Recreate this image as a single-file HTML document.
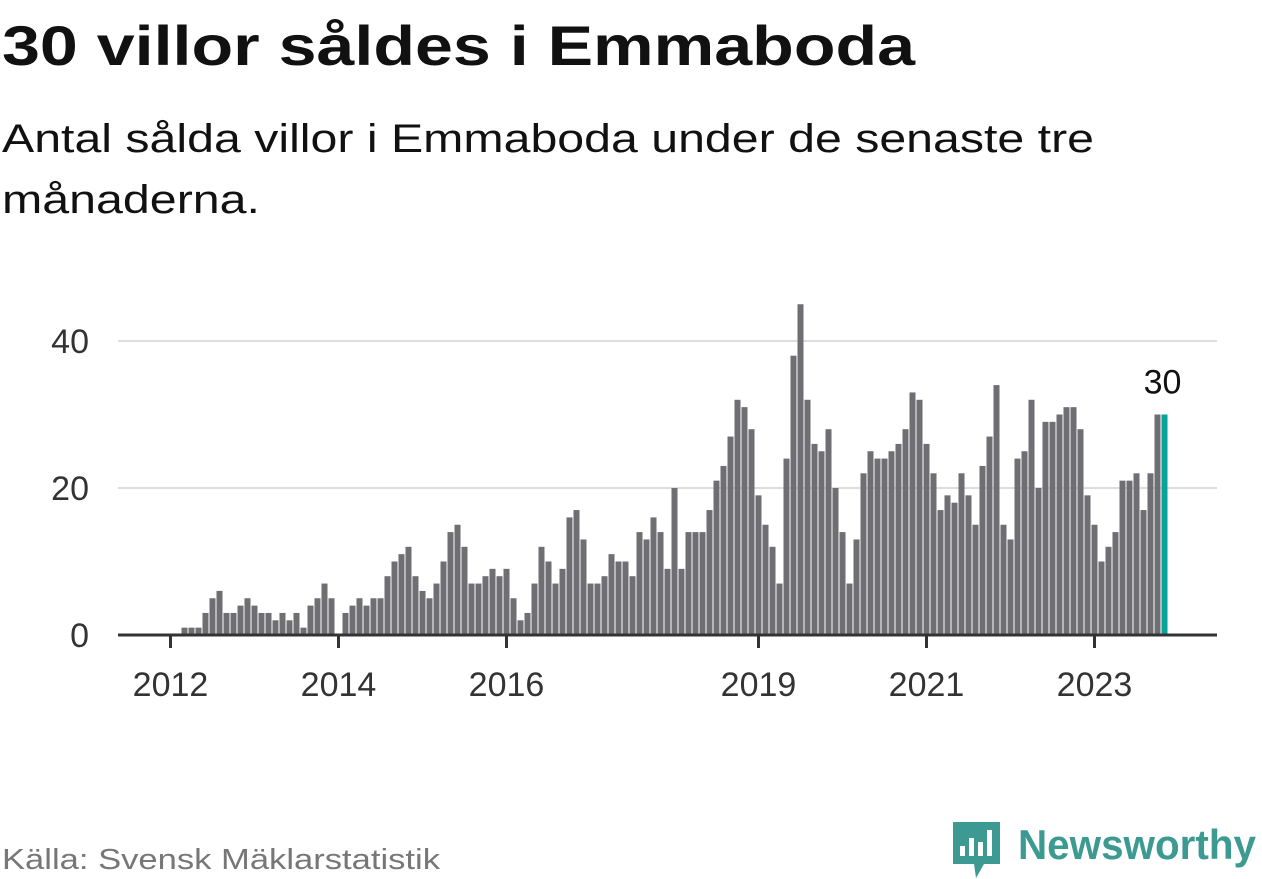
<!DOCTYPE html>
<html><head><meta charset="utf-8"><style>
html,body{margin:0;padding:0;background:#fff;}
svg{display:block;font-family:"Liberation Sans",sans-serif;}
</style></head><body>
<svg id="chart" width="1262" height="879" viewBox="0 0 1262 879" xmlns="http://www.w3.org/2000/svg">
<text x="2" y="65" font-size="56" font-weight="bold" fill="#111" textLength="913" lengthAdjust="spacingAndGlyphs">30 villor såldes i Emmaboda</text>
<text x="2" y="152" font-size="40" fill="#111" textLength="1092" lengthAdjust="spacingAndGlyphs">Antal sålda villor i Emmaboda under de senaste tre</text>
<text x="2" y="213" font-size="40" fill="#111" textLength="258" lengthAdjust="spacingAndGlyphs">månaderna.</text>
<g id="grid"></g><g id="bars"></g><g id="axis"></g>
<text x="2" y="869" font-size="29" fill="#777" textLength="438" lengthAdjust="spacingAndGlyphs">Källa: Svensk Mäklarstatistik</text>
<g>
<path d="M953 822 h47 v42 h-16 l-8 14 l-2 -14 h-21 z" fill="#3d9a92"/>
<rect x="960" y="846" width="5" height="10" fill="#fff"/>
<rect x="969" y="838" width="5" height="18" fill="#fff"/>
<rect x="978" y="842" width="5" height="14" fill="#fff"/>
<rect x="987" y="830" width="5" height="26" fill="#fff"/>
<text x="1018" y="859" font-size="42" font-weight="bold" fill="#3d9a92" textLength="238" lengthAdjust="spacingAndGlyphs">Newsworthy</text>
</g>
</svg>
<script>
const values = [0,0,1,1,1,3,5,6,3,3,4,5,4,3,3,2,3,2,3,1,4,5,7,5,
0,3,4,5,4,5,5,8,10,11,12,8,6,5,7,10,14,15,12,7,7,8,9,8,
9,5,2,3,7,12,10,7,9,16,17,13,7,7,8,11,10,10,8,14,13,16,14,9,
20,9,14,14,14,17,21,23,27,32,31,28,19,15,12,7,24,38,45,32,26,25,28,20,
14,7,13,22,25,24,24,25,26,28,33,32,26,22,17,19,18,22,19,15,23,27,34,15,
13,24,25,32,20,29,29,30,31,31,28,19,15,10,12,14,21,21,22,17,22,30,30];
const startYear = 2012;
const yTicks = [0,20,40];
const xTickYears = [2012,2014,2016,2019,2021,2023];
const NS="http://www.w3.org/2000/svg";
function x(m){return 170.5+7*m;}
function y(v){return 635-v*7.35;}
function mk(tag,attrs,parent){const e=document.createElementNS(NS,tag);for(const k in attrs)e.setAttribute(k,attrs[k]);parent.appendChild(e);return e;}
const grid=document.getElementById('grid'),bars=document.getElementById('bars'),axis=document.getElementById('axis');
yTicks.forEach(t=>{
  if(t>0){const l=mk('line',{x1:118,x2:1217,y1:y(t),y2:y(t),stroke:'#ddd','stroke-width':2},grid);
  
  }
  const tx=mk('text',{x:89,y:y(t)+12,'font-size':34,fill:'#333','text-anchor':'end'},grid);
  tx.textContent=t;
  
  
});
values.forEach((v,i)=>{
  const last=i===values.length-1;
  const r=mk('rect',{x:x(i)-3,y:y(v),width:6,height:635-y(v),fill:last?'#0aa39a':'#6e6e73'},bars);
  
  
  if(last){const lb=mk('text',{x:x(i)-2,y:y(v)-21,'font-size':34,fill:'#111','text-anchor':'middle'},bars);
  lb.textContent=v;
  
  }
});
const base=mk('line',{x1:118,x2:1217,y1:635,y2:635,stroke:'#333','stroke-width':3},axis);


xTickYears.forEach(yr=>{
  const m=(yr-startYear)*12;
  const t=mk('line',{x1:x(m),x2:x(m),y1:635,y2:648,stroke:'#333','stroke-width':3},axis);
  
  
  const tx=mk('text',{x:x(m),y:696,'font-size':34,fill:'#333','text-anchor':'middle'},axis);
  tx.textContent=yr;
  
  
});
</script>
</body></html>
